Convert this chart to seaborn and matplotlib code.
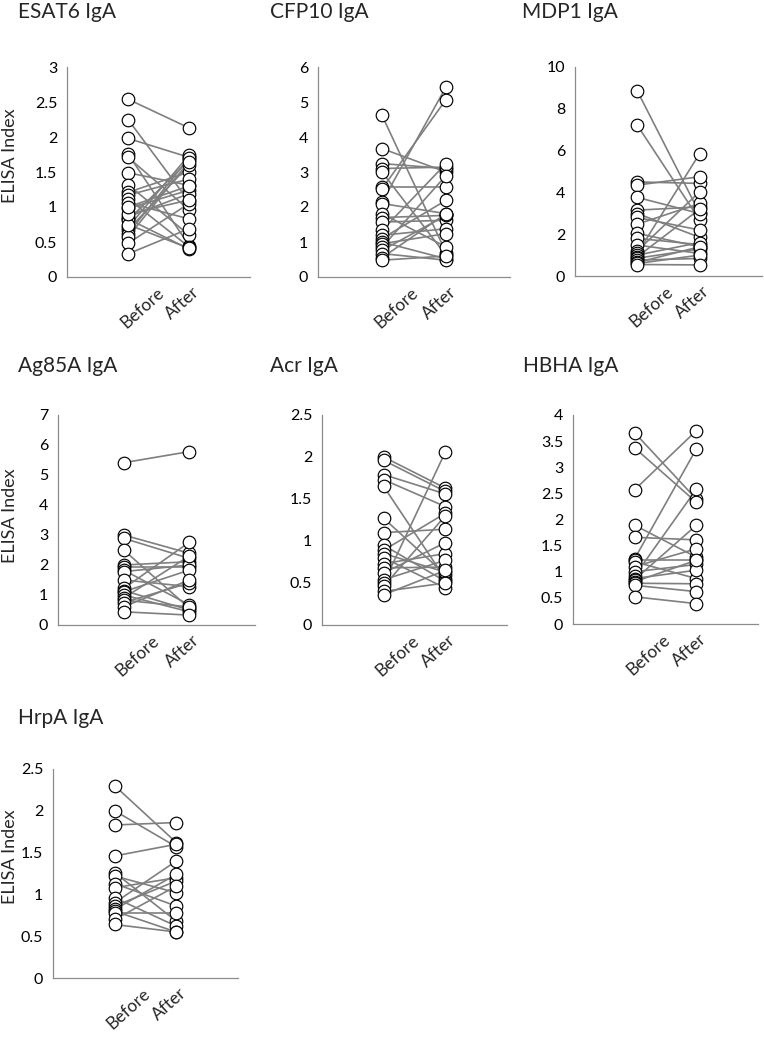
import numpy as np
import pandas as pd
import matplotlib
matplotlib.use("Agg")
import matplotlib.pyplot as plt
import matplotlib.transforms as mtransforms
import seaborn as sns

# Paired ELISA index values, before and after
timepoints = ["Before", "After"]

esat6_before = [2.54, 2.25, 1.98, 1.76, 1.71, 1.49, 1.32, 1.21, 1.17, 1.12, 1.06, 0.98,
                0.86, 0.83, 0.81, 0.71, 0.67, 0.62, 0.57, 0.48, 0.33, 0.75, 0.90, 1.00]
esat6_after = [2.13, 1.08, 1.71, 0.45, 0.96, 1.31, 0.60, 1.50, 1.40, 0.43, 0.83, 1.24,
               1.19, 0.40, 1.67, 1.74, 1.60, 1.70, 1.65, 1.05, 0.69, 0.41, 1.10, 1.30]

cfp10_before = [4.62, 3.67, 3.24, 3.10, 3.00, 2.57, 2.52, 2.14, 2.10, 1.81, 1.70,
                1.57, 1.33, 1.19, 1.10, 1.00, 0.95, 0.85, 0.76, 0.67, 0.55, 0.48]
cfp10_after = [0.70, 3.00, 3.10, 3.14, 0.62, 2.57, 5.07, 5.43, 1.81, 0.86, 1.76,
               1.62, 3.24, 1.38, 2.19, 0.52, 1.24, 2.90, 1.76, 0.48, 1.81, 0.60]

mdp1_before = [8.85, 7.21, 4.50, 4.35, 3.76, 3.15, 2.99, 2.80, 2.48, 2.04, 1.80,
               1.48, 1.20, 1.08, 1.00, 0.92, 0.85, 0.76, 0.65, 0.60, 0.55]
mdp1_after = [3.00, 2.68, 4.43, 4.75, 2.99, 3.31, 1.85, 2.20, 3.47, 1.40, 1.50,
              1.08, 4.03, 5.86, 1.60, 3.20, 1.30, 0.84, 1.40, 1.00, 0.53]

ag85a_before = [5.41, 3.00, 2.89, 2.50, 2.00, 1.92, 1.83, 1.78, 1.50, 1.22, 1.15,
                1.11, 1.00, 0.90, 0.83, 0.75, 0.61, 0.44]
ag85a_after = [5.78, 2.39, 2.22, 0.56, 2.11, 1.92, 0.67, 2.00, 1.28, 2.76, 0.50,
               1.83, 0.44, 2.30, 0.60, 1.40, 1.50, 0.33]

acr_before = [2.00, 1.96, 1.79, 1.73, 1.65, 1.27, 1.10, 0.95, 0.89, 0.85, 0.80,
              0.73, 0.68, 0.62, 0.54, 0.50, 0.46, 0.40, 0.36]
acr_after = [1.63, 1.59, 1.56, 1.41, 0.55, 0.60, 1.14, 0.52, 1.33, 0.63, 0.44,
             0.85, 0.69, 0.98, 0.77, 2.06, 1.30, 0.50, 0.65]

hbha_before = [3.66, 3.37, 2.57, 1.89, 1.66, 1.25, 1.22, 1.19, 1.10, 1.00, 0.92,
               0.87, 0.85, 0.81, 0.78, 0.74, 0.52]
hbha_after = [2.39, 2.33, 3.70, 1.28, 1.61, 3.35, 1.22, 0.87, 1.44, 1.14, 2.58,
              1.03, 1.89, 1.22, 0.77, 0.62, 0.39]

hrpa_before = [2.30, 2.00, 1.83, 1.46, 1.26, 1.22, 1.13, 1.08, 0.96, 0.90, 0.86,
               0.82, 0.80, 0.78, 0.70, 0.64]
hrpa_after = [1.62, 1.57, 1.86, 1.60, 0.68, 1.02, 0.86, 1.20, 0.62, 1.40, 1.16,
              1.24, 0.55, 0.78, 1.10, 0.55]

titles = ["ESAT6 IgA", "CFP10 IgA", "MDP1 IgA", "Ag85A IgA", "Acr IgA", "HBHA IgA", "HrpA IgA"]
befores = [esat6_before, cfp10_before, mdp1_before, ag85a_before, acr_before, hbha_before, hrpa_before]
afters = [esat6_after, cfp10_after, mdp1_after, ag85a_after, acr_after, hbha_after, hrpa_after]
y_max = [3, 6, 10, 7, 2.5, 4, 2.5]
y_step = [0.5, 1, 2, 1, 0.5, 0.5, 0.5]

# layout in pixels: (left, top, right, bottom) of each plot box
W, H = 764, 1043
boxes = [(67, 67, 250, 277), (318, 67, 510, 277), (575, 67, 762, 276),
         (58, 415, 255, 625), (322, 415, 507, 625), (573, 415, 758, 624),
         (53, 769, 238, 978)]
title_xy = [(18, 12), (270, 12), (522, 12), (18, 366), (270, 366), (523, 366), (18, 718)]
ylabel_xy = {0: (10, 156), 3: (10, 516), 6: (10, 857)}
label_shift = [14, -7]   # px, horizontal nudge of Before / After labels

sns.set_theme(style="white")
plt.rcParams["font.family"] = ["Lato", "DejaVu Sans"]

fig = plt.figure(figsize=(W / 100, H / 100), dpi=100)
axis_grey = "#8c8c8c"

for i, title in enumerate(titles):
    l, t, r, b = boxes[i]
    ax = fig.add_axes([l / W, 1 - b / H, (r - l) / W, (b - t) / H])

    n = len(befores[i])
    df = pd.DataFrame({
        "subject": list(range(n)) * 2,
        "time": [0] * n + [1] * n,
        "value": befores[i] + afters[i],
    })

    sns.lineplot(data=df, x="time", y="value", units="subject", estimator=None,
                 color="#7f7f7f", linewidth=1.2, ax=ax, legend=False)
    sns.scatterplot(data=df, x="time", y="value", marker="o", s=82,
                    facecolor="white", edgecolor="black", linewidth=0.85,
                    ax=ax, legend=False, zorder=3, clip_on=False)

    ax.set_xlim(-1, 2)
    ax.set_ylim(0, y_max[i])
    ticks = np.arange(0, y_max[i] + y_step[i] / 2, y_step[i])
    ax.set_yticks(ticks, labels=[f"{v:g}" for v in ticks], fontsize=11.5)
    ax.set_xticks([])
    ax.set_xlabel("")
    ax.set_ylabel("")

    # rotated category labels, nudged like the original
    for k, name in enumerate(timepoints):
        offset = mtransforms.ScaledTranslation(label_shift[k] / 100, -7 / 100, fig.dpi_scale_trans)
        ax.text(k, 0, name, transform=ax.get_xaxis_transform() + offset,
                rotation=42, ha="center", va="top", fontsize=12.5)

    for side in ["top", "right"]:
        ax.spines[side].set_visible(False)
    for side in ["left", "bottom"]:
        ax.spines[side].set_color(axis_grey)
        ax.spines[side].set_linewidth(0.9)
    ax.tick_params(axis="y", direction="out", length=4, width=0.9, color=axis_grey, pad=3, labelcolor="black")

    tx, ty = title_xy[i]
    fig.text(tx / W, 1 - ty / H, title, ha="left", va="center", fontsize=15)
    if i in ylabel_xy:
        lx, ly = ylabel_xy[i]
        fig.text(lx / W, 1 - ly / H, "ELISA Index", rotation=90, ha="center", va="center", fontsize=13)

fig.savefig("out.png", dpi=100, facecolor="white")
